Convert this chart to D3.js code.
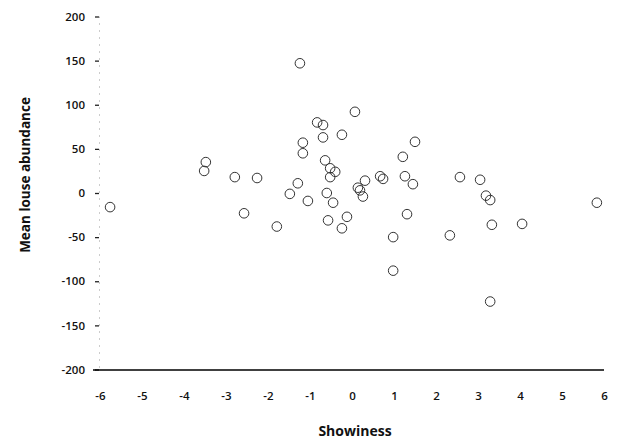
<!DOCTYPE html>
<html><head><meta charset="utf-8">
<script src="https://cdn.jsdelivr.net/npm/d3@7"></script>
<style>
body{margin:0;background:#fff;}
svg{display:block;}
text{font-family:"Open Sans","Liberation Sans",sans-serif;fill:#111;}
</style></head>
<body><svg id="c" width="618" height="444"></svg>
<script>
const showiness = [-5.76,-3.48,-3.52,-2.79,-2.26,-2.57,-1.79,-1.24,0.07,-0.83,-0.69,-0.24,-0.69,-1.17,-1.17,1.5,1.21,-0.52,-0.40,-0.52,-1.29,-1.48,-1.05,-0.6,-0.45,0.14,0.31,0.26,0.67,0.74,1.26,1.45,2.57,3.05,3.19,3.29,3.33,4.05,5.83,2.33,0.98,0.98,3.29,-0.57,-0.12,-0.24,1.31,0.19,-0.64];
const abundance = [-16,35,25,18,17,-23,-38,147,92,80,77,66,63,57,45,58,41,28,24,18,11,-1,-9,0,-11,6,14,-4,19,16,19,10,18,15,-3,-8,-36,-35,-11,-48,-50,-88,-123,-31,-27,-40,-24,3,37];
const xTicks = [-6,-5,-4,-3,-2,-1,0,1,2,3,4,5,6];
const yTicks = [-200,-150,-100,-50,0,50,100,150,200];

const svg = d3.select("#c");
const x = d3.scaleLinear().domain([-6,6]).range([100,604]);
const y = d3.scaleLinear().domain([-200,200]).range([369.5,16.5]);
const fmt = d => String(d);

// y axis
const ya = svg.append("g").attr("transform","translate(99,0)")
  .call(d3.axisLeft(y).tickValues(yTicks).tickFormat(fmt).tickSize(4).tickPadding(10));
ya.select(".domain").attr("stroke","#999").attr("stroke-dasharray","1,6");
ya.selectAll(".tick line").attr("stroke","#222").attr("stroke-width",1.3);
ya.selectAll(".tick text").style("font-size","11.5px").style("font-weight","600")
  .style("font-family","'Open Sans',sans-serif").attr("fill","#111");

// x axis
const xa = svg.append("g").attr("transform","translate(0,370)")
  .call(d3.axisBottom(x).tickValues(xTicks).tickFormat(fmt).tickSize(0).tickPadding(22));
xa.select(".domain").attr("stroke","#000").attr("stroke-width",1.4)
  .attr("d","M93,0H604");
xa.selectAll(".tick text").style("font-size","11.5px").style("font-weight","600")
  .style("font-family","'Open Sans',sans-serif").attr("fill","#111");

// points
svg.append("g").selectAll("circle").data(showiness).join("circle")
  .attr("cx",(d)=>x(d)).attr("cy",(d,i)=>y(abundance[i])).attr("r",4.8)
  .attr("fill","none").attr("stroke","#333").attr("stroke-width",1);

// labels
svg.append("text").attr("transform","translate(30,175) rotate(-90)")
  .attr("text-anchor","middle").style("font-size","13.5px").style("font-weight","700")
  .text("Mean louse abundance");
svg.append("text").attr("x",355).attr("y",436).attr("text-anchor","middle")
  .style("font-size","14px").style("font-weight","700").text("Showiness");
</script></body></html>
